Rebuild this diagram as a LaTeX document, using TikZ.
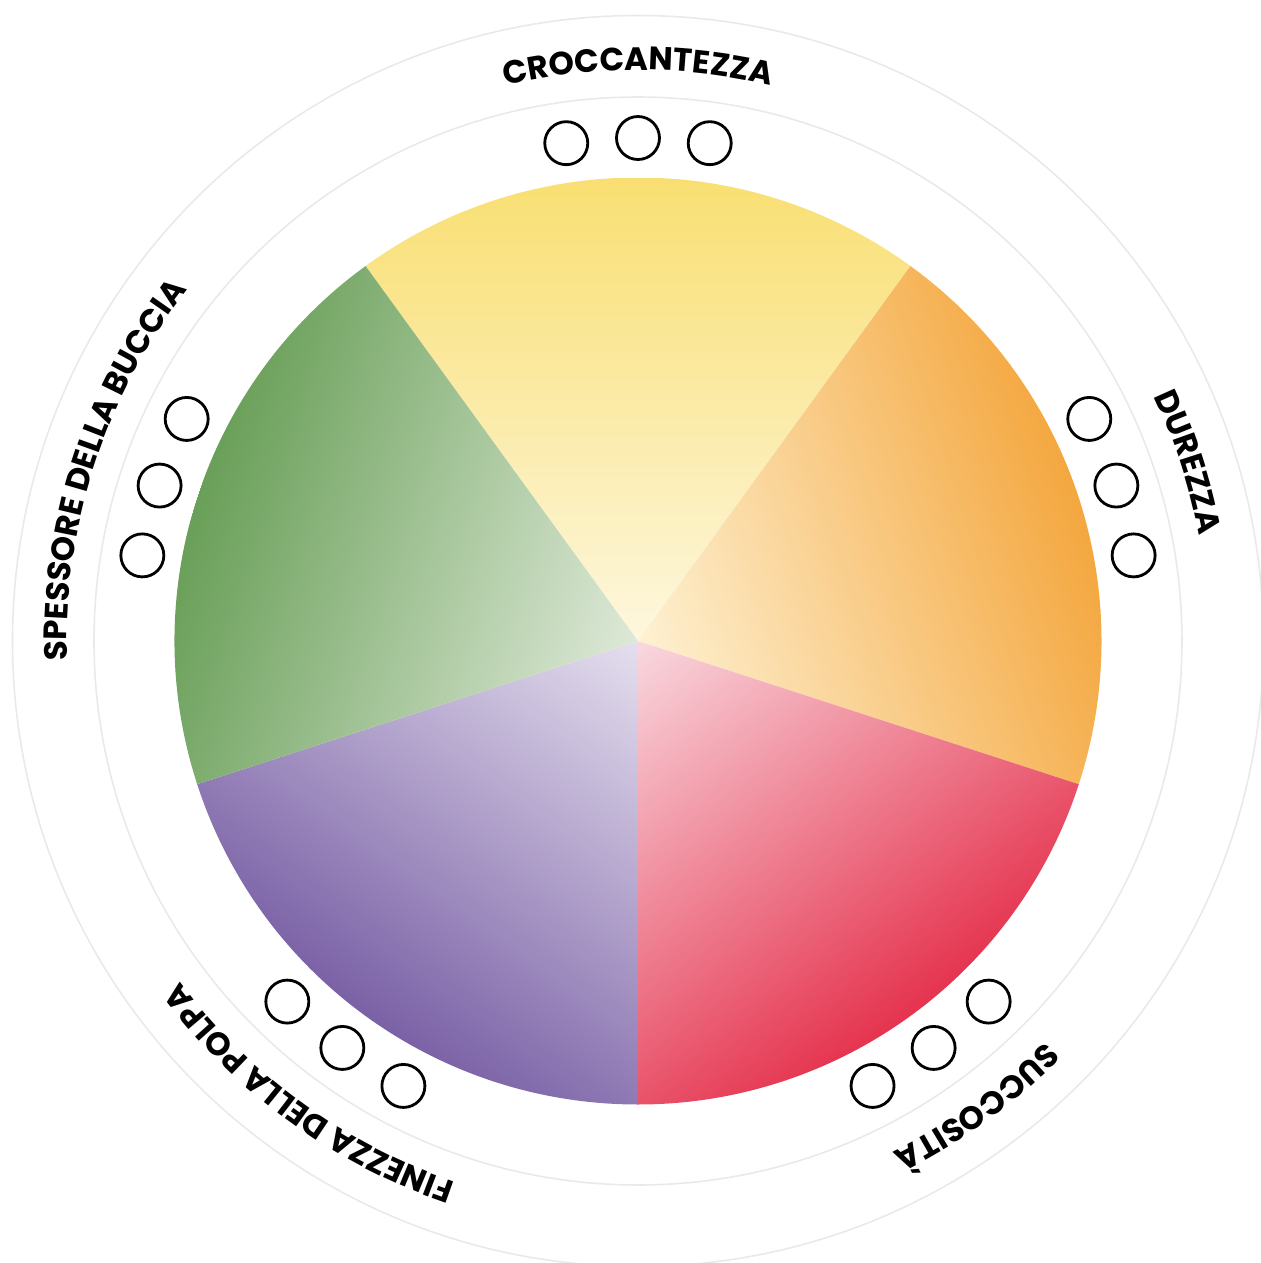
\documentclass[tikz,border=0pt]{standalone}
\usepackage{fontspec}
\usetikzlibrary{decorations.text}
\newfontfamily\labelfont{Poppins}

% slice colours, centre -> rim
\definecolor{yellowin}{HTML}{FDF7DE}
\definecolor{yellowout}{HTML}{F9DF72}
\definecolor{orangein}{HTML}{FEF1D2}
\definecolor{orangeout}{HTML}{F4A73F}
\definecolor{redin}{HTML}{F9D8DF}
\definecolor{redout}{HTML}{E5334E}
\definecolor{purplein}{HTML}{E5DFEE}
\definecolor{purpleout}{HTML}{7A61A6}
\definecolor{greenin}{HTML}{DEE9D8}
\definecolor{greenout}{HTML}{699F58}
\definecolor{ringgray}{HTML}{E9E9E9}

\pgfdeclarehorizontalshading{yellowfade}{5.6cm}{color(0cm)=(yellowin); color(4.64cm)=(yellowout)}
\pgfdeclarehorizontalshading{orangefade}{5.6cm}{color(0cm)=(orangein); color(4.64cm)=(orangeout)}
\pgfdeclarehorizontalshading{redfade}{5.6cm}{color(0cm)=(redin); color(4.64cm)=(redout)}
\pgfdeclarehorizontalshading{purplefade}{5.6cm}{color(0cm)=(purplein); color(4.64cm)=(purpleout)}
\pgfdeclarehorizontalshading{greenfade}{5.6cm}{color(0cm)=(greenin); color(4.64cm)=(greenout)}

\newcommand\labelstyle{\labelfont\bfseries\fontsize{9.2}{10}\selectfont}

\begin{document}
\begin{tikzpicture}[
  ring/.style={draw=ringgray, line width=0.45pt},
  scorering/.style={draw=black, fill=white, line width=0.8pt},
  arctext/.style={decorate, decoration={text along path, text align=center, text={#1}}}
]
\useasboundingbox (-6.38,-6.22) rectangle (6.23,6.41);

% guide rings
\draw[ring] (0,0) circle[radius=5.44];
\draw[ring] (0,0) circle[radius=6.255];

% the five slices, each faded along its middle line
\foreach \ang/\grad in {90/yellowfade,18/orangefade,-54/redfade,-126/purplefade,162/greenfade}{
  \begin{scope}
    \clip (0,0) -- (\ang-36:4.635) arc[start angle=\ang-36, end angle=\ang+36, radius=4.635] -- cycle;
    \node[rotate=\ang, anchor=west, inner sep=0pt, outer sep=0pt] at (0,0) {\pgfuseshading{\grad}};
  \end{scope}
}

% three score circles per slice
\foreach \ang in {90,18,-54,-126,162}
  \foreach \d in {-8.2,0,8.2}
    \draw[scorering] (\ang+\d:5.03) circle[radius=0.215];

% labels round the rim
\path[arctext={|\labelstyle|CROCCANTEZZA}] (135:5.71) arc[start angle=135, end angle=45, radius=5.71];
\path[arctext={|\labelstyle|DUREZZA}] (63:5.71) arc[start angle=63, end angle=-27, radius=5.71];
\path[arctext={|\labelstyle|SUCCOSITÀ}] (-9:5.71) arc[start angle=-9, end angle=-99, radius=5.71];
\path[arctext={|\labelstyle|FINEZZA DELLA POLPA}] (-81:5.71) arc[start angle=-81, end angle=-171, radius=5.71];
\path[arctext={|\labelstyle|SPESSORE DELLA BUCCIA}] (207:5.71) arc[start angle=207, end angle=117, radius=5.71];
\end{tikzpicture}
\end{document}
